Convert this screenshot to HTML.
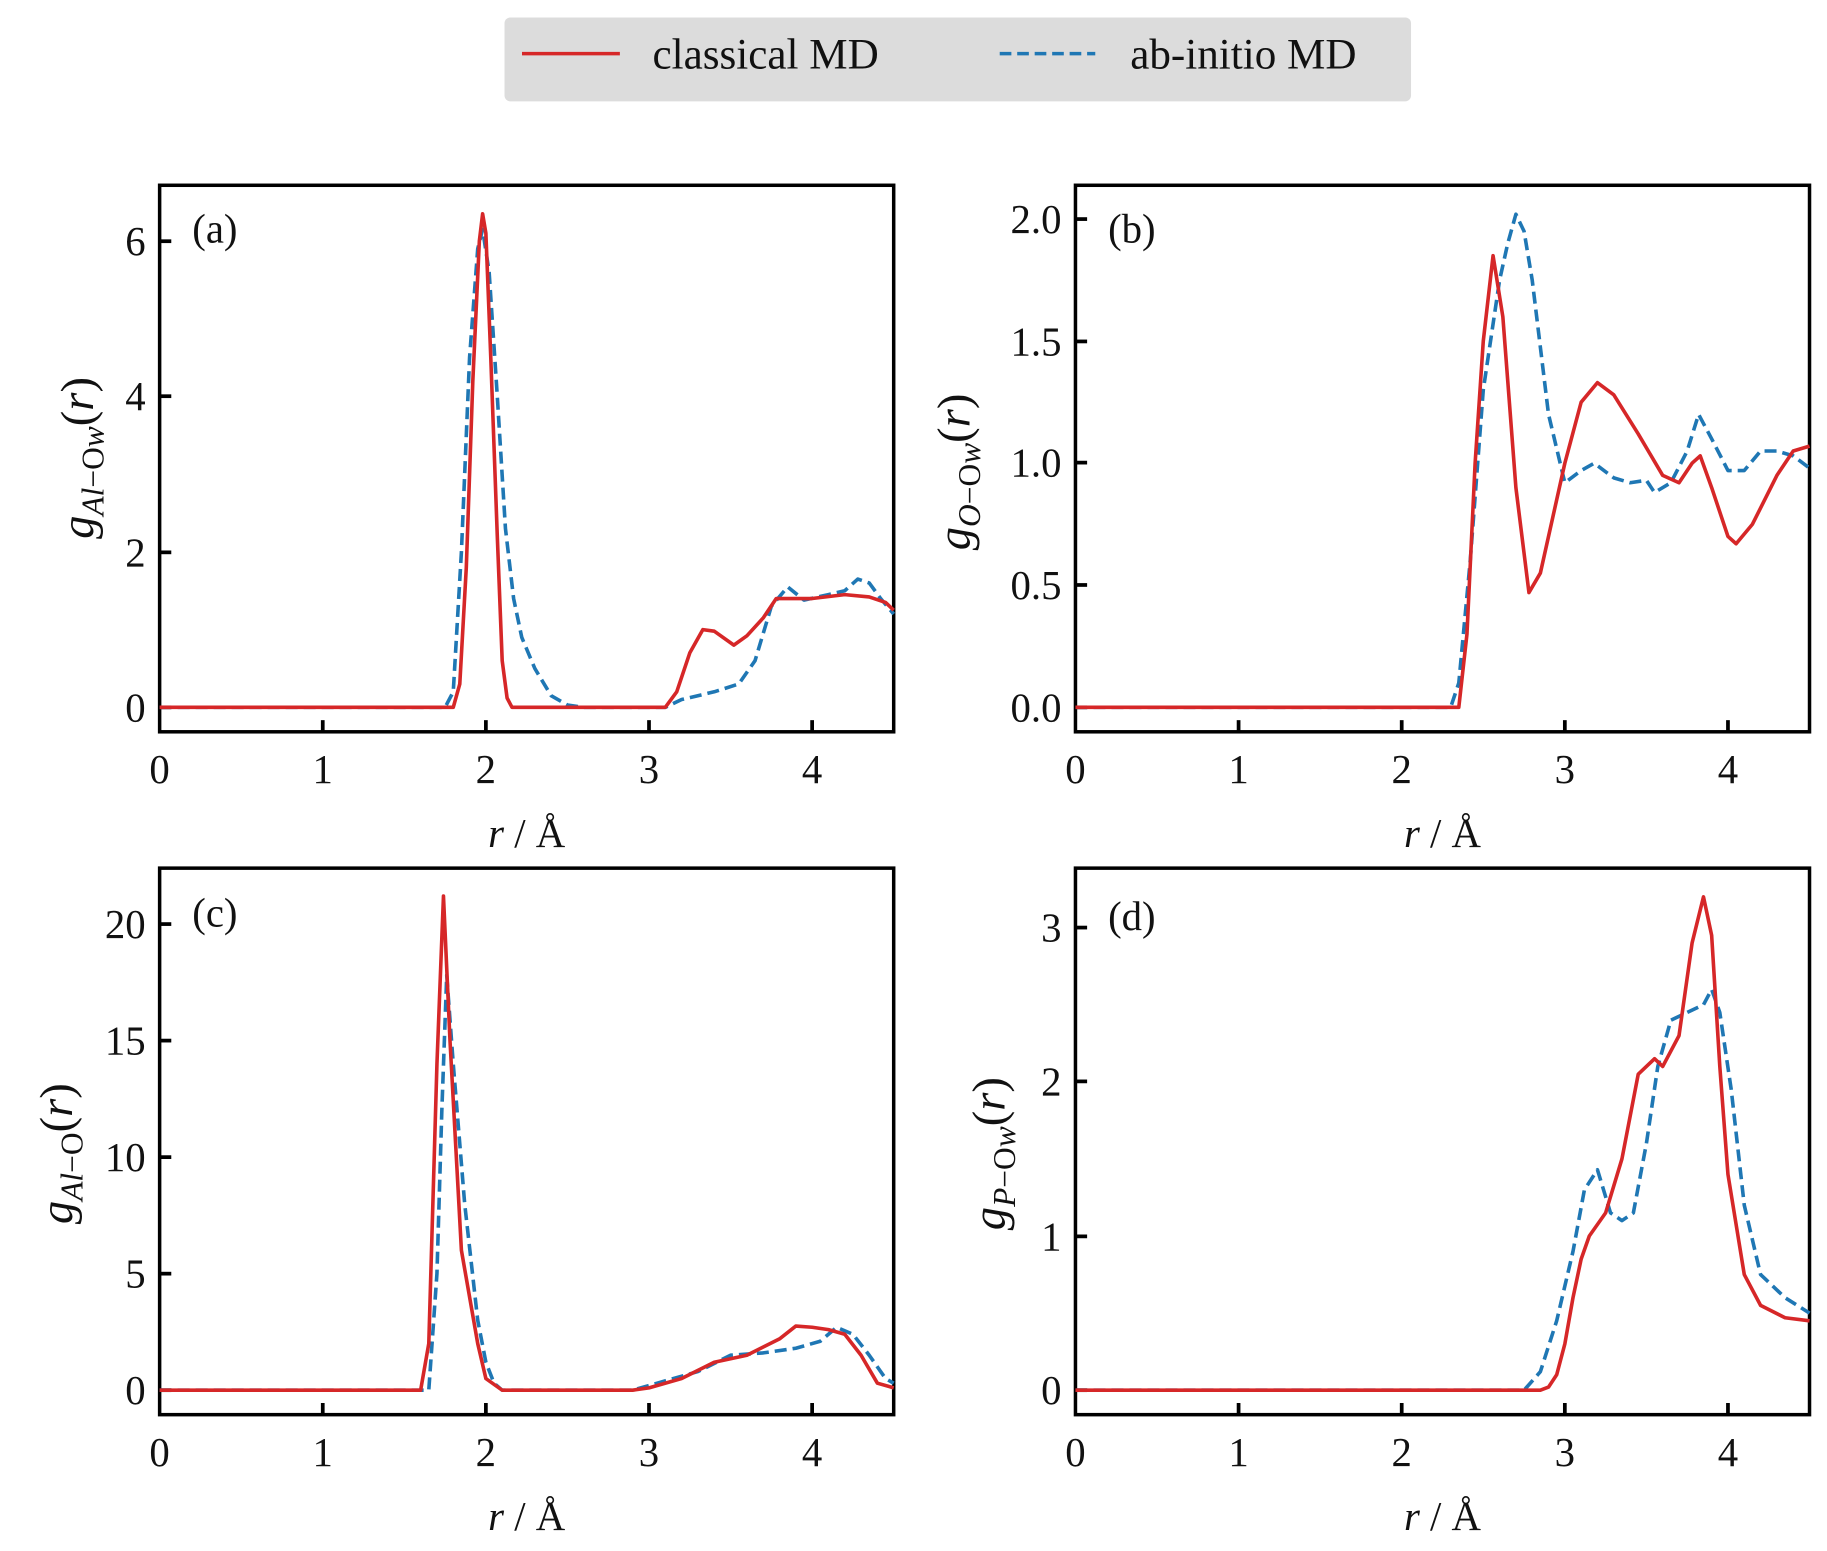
<!DOCTYPE html>
<html><head><meta charset="utf-8"><style>
html,body{margin:0;padding:0;background:#fff;}
svg{display:block;font-family:"Liberation Serif",serif;}
.t{font-size:35px;fill:#111;}
.ax{fill:none;stroke:#000;stroke-width:3;}
.tk{stroke:#000;stroke-width:3.2;}
.r{fill:none;stroke:#d62728;stroke-width:3.6;stroke-linejoin:round;}
.b{fill:none;stroke:#1f77b4;stroke-width:3.6;stroke-dasharray:12 6;stroke-linejoin:round;}
</style></head><body>
<svg width="1827" height="1551" viewBox="0 0 1568 1331" preserveAspectRatio="none">
<rect x="433" y="15" width="778" height="72" rx="5" fill="#dcdcdc"/>
<line x1="448" y1="46" x2="532" y2="46" stroke="#d62728" stroke-width="3"/>
<text x="560" y="59" class="t" style="font-size:37px">classical MD</text>
<line x1="858" y1="46" x2="940" y2="46" stroke="#1f77b4" stroke-width="3" stroke-dasharray="10 5"/>
<text x="970" y="59" class="t" style="font-size:37px">ab-initio MD</text>

<g>
<rect class="ax" x="137" y="159" width="630" height="469"/>
<g class="tk"><line x1="277" y1="628" x2="277" y2="618"/><line x1="417" y1="628" x2="417" y2="618"/><line x1="557" y1="628" x2="557" y2="618"/><line x1="697" y1="628" x2="697" y2="618"/>
<line x1="137" y1="607" x2="147" y2="607"/><line x1="137" y1="474" x2="147" y2="474"/><line x1="137" y1="340" x2="147" y2="340"/><line x1="137" y1="207" x2="147" y2="207"/></g>
<g class="t" text-anchor="middle"><text x="137" y="672">0</text><text x="277" y="672">1</text><text x="417" y="672">2</text><text x="557" y="672">3</text><text x="697" y="672">4</text></g>
<g class="t" text-anchor="end"><text x="125" y="619">0</text><text x="125" y="486">2</text><text x="125" y="352">4</text><text x="125" y="219">6</text></g>
<text class="t" x="165" y="208">(a)</text>
<text class="t" x="452" y="727" text-anchor="middle"><tspan font-style="italic">r</tspan> / Å</text>
<text class="t" transform="translate(80,393) rotate(-90)" text-anchor="middle" style="font-size:40px"><tspan font-style="italic">g</tspan><tspan font-size="27" dy="9"><tspan font-style="italic">Al</tspan>−O<tspan font-style="italic">w</tspan></tspan><tspan dy="-9">(</tspan><tspan font-style="italic">r</tspan>)</text>
<g transform="translate(137,607) scale(140,-66.7)">
<polyline class="b" vector-effect="non-scaling-stroke" points="0,0 1.75,0 1.8,0.2 1.85,2 1.9,4.5 1.95,5.9 1.98,6.15 2.02,5.6 2.07,4 2.12,2.3 2.17,1.4 2.22,0.9 2.3,0.5 2.4,0.15 2.5,0.03 2.6,0 3.1,0 3.2,0.1 3.4,0.2 3.55,0.3 3.65,0.6 3.75,1.3 3.85,1.55 3.95,1.38 4.1,1.45 4.2,1.5 4.28,1.65 4.35,1.6 4.42,1.4 4.5,1.2"/>
<polyline class="r" vector-effect="non-scaling-stroke" points="0,0 1.8,0 1.84,0.3 1.88,1.8 1.92,4.2 1.96,6.0 1.98,6.35 2.0,6.1 2.03,4.5 2.07,2.2 2.1,0.6 2.13,0.12 2.16,0 3.1,0 3.17,0.2 3.25,0.7 3.33,1.0 3.4,0.98 3.52,0.8 3.6,0.92 3.7,1.15 3.78,1.4 4.0,1.4 4.2,1.45 4.35,1.42 4.45,1.35 4.5,1.25"/>
</g>
</g>

<g>
<rect class="ax" x="923" y="159" width="630" height="469"/>
<g class="tk"><line x1="1063" y1="628" x2="1063" y2="618"/><line x1="1203" y1="628" x2="1203" y2="618"/><line x1="1343" y1="628" x2="1343" y2="618"/><line x1="1483" y1="628" x2="1483" y2="618"/>
<line x1="923" y1="607" x2="933" y2="607"/><line x1="923" y1="502" x2="933" y2="502"/><line x1="923" y1="397" x2="933" y2="397"/><line x1="923" y1="293" x2="933" y2="293"/><line x1="923" y1="188" x2="933" y2="188"/></g>
<g class="t" text-anchor="middle"><text x="923" y="672">0</text><text x="1063" y="672">1</text><text x="1203" y="672">2</text><text x="1343" y="672">3</text><text x="1483" y="672">4</text></g>
<g class="t" text-anchor="end"><text x="911" y="619">0.0</text><text x="911" y="514">0.5</text><text x="911" y="409">1.0</text><text x="911" y="305">1.5</text><text x="911" y="200">2.0</text></g>
<text class="t" x="951" y="208">(b)</text>
<text class="t" x="1238" y="727" text-anchor="middle"><tspan font-style="italic">r</tspan> / Å</text>
<text class="t" transform="translate(832,405) rotate(-90)" text-anchor="middle" style="font-size:40px"><tspan font-style="italic">g</tspan><tspan font-size="27" dy="9"><tspan font-style="italic">O</tspan>−O<tspan font-style="italic">w</tspan></tspan><tspan dy="-9">(</tspan><tspan font-style="italic">r</tspan>)</text>
<g transform="translate(923,607) scale(140,-209.5)">
<polyline class="b" vector-effect="non-scaling-stroke" points="0,0 2.3,0 2.35,0.1 2.42,0.6 2.5,1.3 2.6,1.75 2.65,1.9 2.7,2.02 2.75,1.95 2.8,1.75 2.9,1.2 3.0,0.92 3.1,0.97 3.18,1.0 3.3,0.94 3.4,0.92 3.5,0.93 3.55,0.88 3.65,0.92 3.75,1.05 3.82,1.2 3.9,1.1 4.0,0.97 4.1,0.97 4.2,1.05 4.3,1.05 4.4,1.03 4.5,0.98"/>
<polyline class="r" vector-effect="non-scaling-stroke" points="0,0 2.35,0 2.4,0.3 2.45,1.0 2.5,1.5 2.56,1.85 2.62,1.6 2.7,0.9 2.78,0.47 2.85,0.55 3.0,1.0 3.1,1.25 3.2,1.33 3.3,1.28 3.45,1.12 3.6,0.95 3.7,0.92 3.78,1.0 3.83,1.03 3.9,0.9 4.0,0.7 4.05,0.67 4.15,0.75 4.3,0.95 4.4,1.05 4.5,1.07"/>
</g>
</g>

<g>
<rect class="ax" x="137" y="745" width="630" height="469"/>
<g class="tk"><line x1="277" y1="1214" x2="277" y2="1204"/><line x1="417" y1="1214" x2="417" y2="1204"/><line x1="557" y1="1214" x2="557" y2="1204"/><line x1="697" y1="1214" x2="697" y2="1204"/>
<line x1="137" y1="1193" x2="147" y2="1193"/><line x1="137" y1="1093" x2="147" y2="1093"/><line x1="137" y1="993" x2="147" y2="993"/><line x1="137" y1="893" x2="147" y2="893"/><line x1="137" y1="793" x2="147" y2="793"/></g>
<g class="t" text-anchor="middle"><text x="137" y="1258">0</text><text x="277" y="1258">1</text><text x="417" y="1258">2</text><text x="557" y="1258">3</text><text x="697" y="1258">4</text></g>
<g class="t" text-anchor="end"><text x="125" y="1205">0</text><text x="125" y="1105">5</text><text x="125" y="1005">10</text><text x="125" y="905">15</text><text x="125" y="805">20</text></g>
<text class="t" x="165" y="795">(c)</text>
<text class="t" x="452" y="1313" text-anchor="middle"><tspan font-style="italic">r</tspan> / Å</text>
<text class="t" transform="translate(62,990) rotate(-90)" text-anchor="middle" style="font-size:40px"><tspan font-style="italic">g</tspan><tspan font-size="27" dy="9"><tspan font-style="italic">Al</tspan>−O</tspan><tspan dy="-9">(</tspan><tspan font-style="italic">r</tspan>)</text>
<g transform="translate(137,1193) scale(140,-20)">
<polyline class="b" vector-effect="non-scaling-stroke" points="0,0 1.65,0 1.7,5 1.73,12 1.76,17.8 1.8,14 1.87,8 1.95,3 2.0,1.2 2.05,0.3 2.1,0 2.9,0 3.0,0.2 3.2,0.6 3.3,0.8 3.5,1.5 3.7,1.6 3.9,1.8 4.05,2.1 4.15,2.7 4.25,2.4 4.35,1.5 4.45,0.5 4.5,0.3"/>
<polyline class="r" vector-effect="non-scaling-stroke" points="0,0 1.6,0 1.65,2 1.7,14 1.74,21.2 1.78,15 1.85,6 1.95,2 2.0,0.5 2.1,0 2.9,0 3.0,0.1 3.2,0.5 3.4,1.2 3.6,1.5 3.8,2.2 3.9,2.75 4.0,2.7 4.1,2.6 4.2,2.4 4.3,1.5 4.4,0.3 4.5,0.1"/>
</g>
</g>

<g>
<rect class="ax" x="923" y="745" width="630" height="469"/>
<g class="tk"><line x1="1063" y1="1214" x2="1063" y2="1204"/><line x1="1203" y1="1214" x2="1203" y2="1204"/><line x1="1343" y1="1214" x2="1343" y2="1204"/><line x1="1483" y1="1214" x2="1483" y2="1204"/>
<line x1="923" y1="1193" x2="933" y2="1193"/><line x1="923" y1="1061" x2="933" y2="1061"/><line x1="923" y1="928" x2="933" y2="928"/><line x1="923" y1="796" x2="933" y2="796"/></g>
<g class="t" text-anchor="middle"><text x="923" y="1258">0</text><text x="1063" y="1258">1</text><text x="1203" y="1258">2</text><text x="1343" y="1258">3</text><text x="1483" y="1258">4</text></g>
<g class="t" text-anchor="end"><text x="911" y="1205">0</text><text x="911" y="1073">1</text><text x="911" y="940">2</text><text x="911" y="808">3</text></g>
<text class="t" x="951" y="798">(d)</text>
<text class="t" x="1238" y="1313" text-anchor="middle"><tspan font-style="italic">r</tspan> / Å</text>
<text class="t" transform="translate(862,990) rotate(-90)" text-anchor="middle" style="font-size:40px"><tspan font-style="italic">g</tspan><tspan font-size="27" dy="9"><tspan font-style="italic">P</tspan>−O<tspan font-style="italic">w</tspan></tspan><tspan dy="-9">(</tspan><tspan font-style="italic">r</tspan>)</text>
<g transform="translate(923,1193) scale(140,-132.3)">
<polyline class="b" vector-effect="non-scaling-stroke" points="0,0 2.75,0 2.85,0.12 2.95,0.45 3.05,0.9 3.12,1.3 3.2,1.43 3.28,1.15 3.35,1.1 3.42,1.15 3.5,1.6 3.57,2.1 3.65,2.4 3.75,2.45 3.85,2.5 3.9,2.6 3.95,2.45 4.02,1.95 4.1,1.2 4.2,0.75 4.35,0.6 4.5,0.5"/>
<polyline class="r" vector-effect="non-scaling-stroke" points="0,0 2.85,0 2.9,0.02 2.95,0.1 3.0,0.3 3.05,0.6 3.1,0.85 3.15,1.0 3.25,1.15 3.35,1.5 3.45,2.05 3.55,2.15 3.6,2.1 3.7,2.3 3.78,2.9 3.85,3.2 3.9,2.95 3.95,2.1 4.0,1.4 4.1,0.75 4.2,0.55 4.35,0.47 4.5,0.45"/>
</g>
</g>
</svg>
</body></html>
